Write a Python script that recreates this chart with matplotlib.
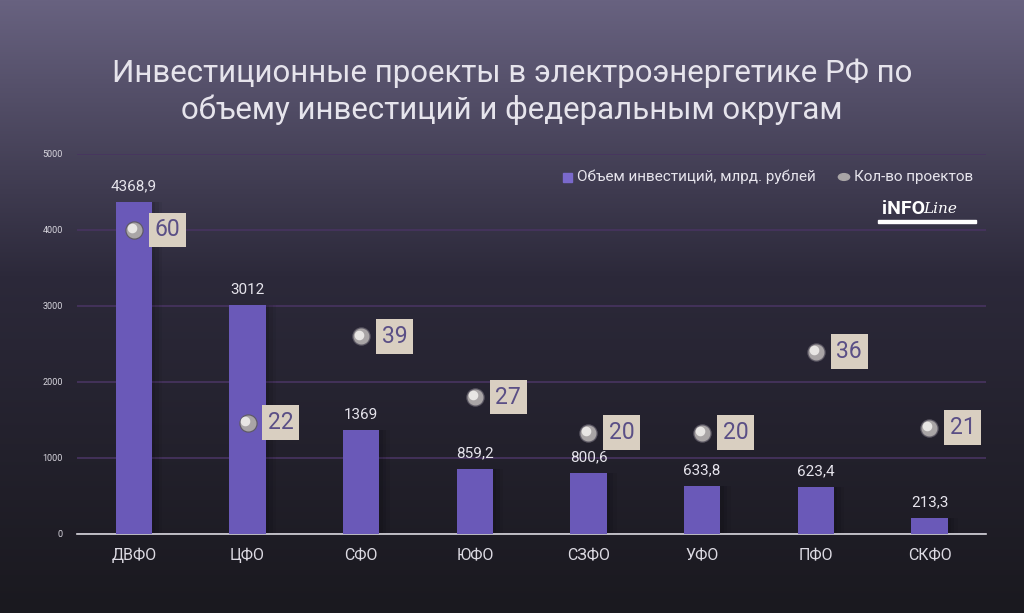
import numpy as np
import matplotlib
matplotlib.use("Agg")
import matplotlib.pyplot as plt

plt.rcParams['font.family'] = ['Roboto', 'DejaVu Sans']

regions = ['ДВФО', 'ЦФО', 'СФО', 'ЮФО', 'СЗФО', 'УФО', 'ПФО', 'СКФО']
investments = [4368.9, 3012, 1369, 859.2, 800.6, 633.8, 623.4, 213.3]
inv_labels = ['4368,9', '3012', '1369', '859,2', '800,6', '633,8', '623,4', '213,3']
projects = [60, 22, 39, 27, 20, 20, 36, 21]

title = 'Инвестиционные проекты в электроэнергетике РФ по\nобъему инвестиций и федеральным округам'

bar_color = '#6a59b8'
text_color = '#e6e4ec'

fig = plt.figure(figsize=(10.24, 6.13), dpi=100)

# background gradient
bg = fig.add_axes([0, 0, 1, 1])
bg.set_axis_off()
t = np.linspace(0, 1, 256)[:, None]
top = np.array([104, 98, 128]) / 255
mid = np.array([44, 41, 58]) / 255
bot = np.array([26, 25, 31]) / 255
w = np.clip(t / 0.45, 0, 1)
grad = np.where(t < 0.45, top + (mid - top) * w, mid + (bot - mid) * ((t - 0.45) / 0.55))
bg.imshow(np.repeat(grad[:, None, :], 2, axis=1).reshape(256, 2, 3), aspect='auto',
          extent=[0, 1, 0, 1], origin='upper')
bg.set_xlim(0, 1)
bg.set_ylim(0, 1)

ax = fig.add_axes([0.0752, 0.1289, 0.888, 0.62])
ax.patch.set_alpha(0)
x = np.arange(len(regions))

# soft shadow + bars
for k, a in [(0.03, 0.08), (0.06, 0.07), (0.09, 0.05)]:
    ax.bar(x + k, investments, width=0.32, color='black', alpha=a, zorder=2)
ax.bar(x, investments, width=0.32, color=bar_color, zorder=3)

for xi, v, lab in zip(x, investments, inv_labels):
    ax.annotate(lab, (xi, v), xytext=(0, 6), textcoords='offset points',
                ha='center', va='bottom', color=text_color, fontsize=11, zorder=5)

ax.set_xlim(-0.5, 7.5)
ax.set_ylim(0, 5000)
ax.set_yticks([0, 1000, 2000, 3000, 4000, 5000])
ax.set_yticklabels(['0', '1000', '2000', '3000', '4000', '5000'])
ax.tick_params(axis='y', length=0, labelsize=6.5, labelcolor='#d8d6de', pad=10)
ax.set_xticks(x)
ax.set_xticklabels(regions)
ax.tick_params(axis='x', length=0, labelsize=11.5, labelcolor='#dcdae2', pad=10)
ax.grid(axis='y', color='#483460', linewidth=1.2, zorder=0)
for s in ['top', 'right', 'left']:
    ax.spines[s].set_visible(False)
ax.spines['bottom'].set_color('#d8d8dc')
ax.spines['bottom'].set_linewidth(1.2)

# secondary axis for projects count
ax2 = ax.twinx()
ax2.set_ylim(0, 75)
ax2.set_axis_off()
ax2.scatter(x, projects, s=150, color='#5e5a66', zorder=6)
ax2.scatter(x, projects, s=110, color='#a9a5a6', zorder=7)
ax2.scatter(x - 0.02, [p + 0.35 for p in projects], s=35, color='#e8e6e4', zorder=8)
for xi, p in zip(x, projects):
    ax2.annotate(str(p), (xi, p), xytext=(24, 0), textcoords='offset points',
                 ha='center', va='center', color='#5a4f86', fontsize=16.5, zorder=9,
                 bbox=dict(boxstyle='square,pad=0.25', fc='#d9cfc1', ec='none'))

# legend
fig.patches.append(plt.Rectangle((563 / 1024, 1 - 182 / 613), 9 / 1024, 9 / 613,
                                 transform=fig.transFigure, color='#7a69cc'))
fig.text(577 / 1024, 1 - 177 / 613, 'Объем инвестиций, млрд. рублей', color=text_color,
         fontsize=11, va='center', ha='left')
fig.patches.append(plt.Circle((844 / 1024, 1 - 177 / 613), 0.0055, transform=fig.transFigure,
                              color='#a9a5a6'))
fig.text(854 / 1024, 1 - 177 / 613, 'Кол-во проектов', color=text_color,
         fontsize=11, va='center', ha='left')

# logo
fig.text(882 / 1024, 1 - 209 / 613, 'iNFO', color='white', fontsize=14, fontweight='bold',
         va='center', ha='left')
fig.text(923 / 1024, 1 - 209 / 613, 'Line', color='white', fontsize=11, style='italic',
         va='center', ha='left', family='DejaVu Serif')
fig.patches.append(plt.Rectangle((878 / 1024, 1 - 223 / 613), 98 / 1024, 3 / 613,
                                 transform=fig.transFigure, color='white'))

fig.text(0.5, 1 - 92 / 613, title, ha='center', va='center', color=text_color,
         fontsize=22.5, linespacing=1.25)

fig.savefig('out.png', dpi=100)
